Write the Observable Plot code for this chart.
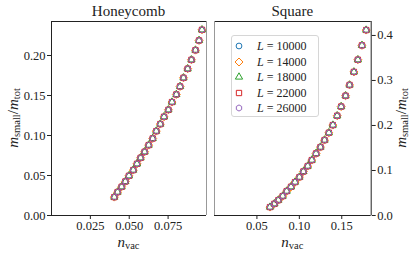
<!DOCTYPE html>
<html><head><meta charset="utf-8">
<script src="https://cdn.jsdelivr.net/npm/d3@7"></script>
<script src="https://cdn.jsdelivr.net/npm/@observablehq/plot@0.6"></script>
<style>
body{margin:0;background:#fff;}
#wrap{position:relative;width:415px;height:254px;font-family:"Liberation Serif",serif;color:#222;overflow:hidden;}
#wrap svg{position:absolute;left:0;top:0;}
.lab{position:absolute;white-space:nowrap;font-size:15px;line-height:1;}
.lab i{font-style:italic;}
.lab sub{font-size:0.7em;vertical-align:-0.25em;line-height:0;}
.rot{transform:translate(-50%,-50%) rotate(-90deg);}
.ctr{transform:translate(-50%,-50%);}
#legend{position:absolute;left:231px;top:35px;width:88px;height:82px;border:1px solid #d6d6d6;border-radius:3px;background:rgba(255,255,255,0.8);box-sizing:border-box;}
.row{position:absolute;left:0;height:14px;font-size:12px;line-height:14px;white-space:nowrap;}
.row svg{position:absolute;left:8px;top:1px;}
.row span{position:absolute;left:25px;top:0;}
</style></head><body><div id="wrap"></div>
<script>
// ---- data ----
const sizes = [10000, 14000, 18000, 22000, 26000];
const colors = ["#1f77b4", "#ff7f0e", "#2ca02c", "#d62728", "#9467bd"];
const panelTitles = ["Honeycomb", "Square"];

const hcX = [0.0404,0.0425,0.0451,0.0475,0.0498,0.0526,0.0550,0.0573,0.0599,0.0625,0.0651,0.0674,0.0700,0.0724,0.0752,0.0775,0.0803,0.0827,0.0849,0.0876,0.0900,0.0926,0.0949,0.0968];
const hcY = [0.0230,0.0293,0.0359,0.0425,0.0496,0.0568,0.0646,0.0721,0.0796,0.0880,0.0963,0.1055,0.1143,0.1234,0.1321,0.1418,0.1513,0.1613,0.1721,0.1834,0.1946,0.2067,0.2188,0.2321];

const sqX = [0.0654,0.0706,0.0753,0.0804,0.0851,0.0902,0.0949,0.1001,0.1048,0.1099,0.1147,0.1197,0.1249,0.1297,0.1348,0.1395,0.1446,0.1493,0.1545,0.1592,0.1643,0.1690,0.1738,0.1788];
const sqY = [0.0187,0.0260,0.0342,0.0431,0.0542,0.0638,0.0742,0.0853,0.0978,0.1098,0.1231,0.1378,0.1520,0.1676,0.1838,0.2009,0.2216,0.2420,0.2660,0.2900,0.3190,0.3460,0.3780,0.4120];

const hcXTicks = [0.025, 0.050, 0.075];
const hcYTicks = [0.00, 0.05, 0.10, 0.15, 0.20];
const sqXTicks = [0.05, 0.10, 0.15];
const sqYTicks = [0.0, 0.1, 0.2, 0.3, 0.4];

// ---- symbols ----
const hexagon = {
  draw(ctx, size) {
    const r = Math.sqrt(size / (3 * Math.sqrt(3) / 2));
    for (let i = 0; i < 6; i++) {
      const a = Math.PI / 2 + i * Math.PI / 3;
      const x = r * Math.cos(a), y = r * Math.sin(a);
      i ? ctx.lineTo(x, y) : ctx.moveTo(x, y);
    }
    ctx.closePath();
  }
};
const symbols = [d3.symbolCircle, d3.symbolDiamond2, d3.symbolTriangle, d3.symbolSquare, hexagon];
const radii = [2.9, 3.6, 2.7, 3.0, 2.8];

function rows(xs, ys) {
  const out = [];
  sizes.forEach((L, k) => xs.forEach((x, i) => out.push({L, k, x, y: ys[i]})));
  return out;
}

const W = 415, H = 254;
const wrap = document.getElementById("wrap");
const common = {width: W, height: H, marginTop: 21, marginBottom: 39, style: {background: "transparent", fontFamily: "Liberation Serif, serif", fontSize: "12.5px", color: "#222", maxWidth: "none", overflow: "visible"}};

function dots(data) {
  return sizes.map((L, k) => Plot.dot(data.filter(d => d.k === k), {
    x: "x", y: "y", symbol: () => symbols[k], r: radii[k], stroke: colors[k], strokeWidth: 1, fill: "none"
  }));
}

const left = Plot.plot({
  ...common,
  marginLeft: 51, marginRight: W - 206,
  x: {domain: [0, 0.0997]},
  y: {domain: [0, 0.2425]},
  symbol: {type: "identity"},
  marks: [
    Plot.axisY({ticks: hcYTicks, tickFormat: d3.format(".2f"), tickSize: 4, tickPadding: 2, label: null, stroke: "#222"}),
    Plot.axisX({ticks: hcXTicks, tickFormat: d3.format(".3f"), tickSize: 4, tickPadding: 2, label: null, stroke: "#222"}),
    ...dots(rows(hcX, hcY)),
    Plot.ruleY([0], {stroke: "#222", strokeWidth: 1}),
    Plot.ruleY([0.2425], {stroke: "#222", strokeWidth: 1}),
    Plot.ruleX([0], {stroke: "#222", strokeWidth: 1}),
    Plot.ruleX([0.0997], {stroke: "#999", strokeWidth: 1})
  ]
});

const right = Plot.plot({
  ...common,
  marginLeft: 214, marginRight: W - 370.7,
  x: {domain: [0, 0.1847]},
  y: {domain: [0, 0.431]},
  symbol: {type: "identity"},
  marks: [
    Plot.axisY({anchor: "right", ticks: sqYTicks, tickFormat: d3.format(".1f"), tickSize: 4, tickPadding: 2, label: null, stroke: "#222"}),
    Plot.axisX({ticks: sqXTicks, tickFormat: d3.format(".2f"), tickSize: 4, tickPadding: 2, label: null, stroke: "#222"}),
    ...dots(rows(sqX, sqY)),
    Plot.ruleY([0], {stroke: "#222", strokeWidth: 1}),
    Plot.ruleY([0.431], {stroke: "#222", strokeWidth: 1}),
    Plot.ruleX([0], {stroke: "#999", strokeWidth: 1}),
    Plot.ruleX([0.1847], {stroke: "#222", strokeWidth: 1})
  ]
});

wrap.appendChild(left);
wrap.appendChild(right);

function label(html, x, y, cls) {
  const d = document.createElement("div");
  d.className = "lab " + cls;
  d.style.left = x + "px";
  d.style.top = y + "px";
  d.innerHTML = html;
  wrap.appendChild(d);
}
const yLab = "<i>m</i><sub>small</sub>/<i>m</i><sub>tot</sub>";
const xLab = "<i>n</i><sub>vac</sub>";
label(panelTitles[0], 128.5, 11, "ctr");
label(panelTitles[1], 292.3, 11, "ctr");
label(yLab, 13, 117.7, "rot");
label(yLab, 401, 117.7, "rot");
label(xLab, 128.5, 241.5, "ctr");
label(xLab, 292.3, 241.5, "ctr");

// legend
const lg = document.createElement("div");
lg.id = "legend";
wrap.appendChild(lg);
sizes.forEach((L, k) => {
  const row = document.createElement("div");
  row.className = "row";
  row.style.top = (3 + k * 15.6) + "px";
  const svg = d3.create("svg").attr("width", 14).attr("height", 14);
  svg.append("path")
    .attr("transform", "translate(7,7)")
    .attr("d", d3.symbol(symbols[k], Math.PI * radii[k] * radii[k])())
    .attr("fill", "none").attr("stroke", colors[k]).attr("stroke-width", 1);
  row.appendChild(svg.node());
  const s = document.createElement("span");
  s.innerHTML = "<i>L</i> = " + L;
  row.appendChild(s);
  lg.appendChild(row);
});
</script></body></html>
